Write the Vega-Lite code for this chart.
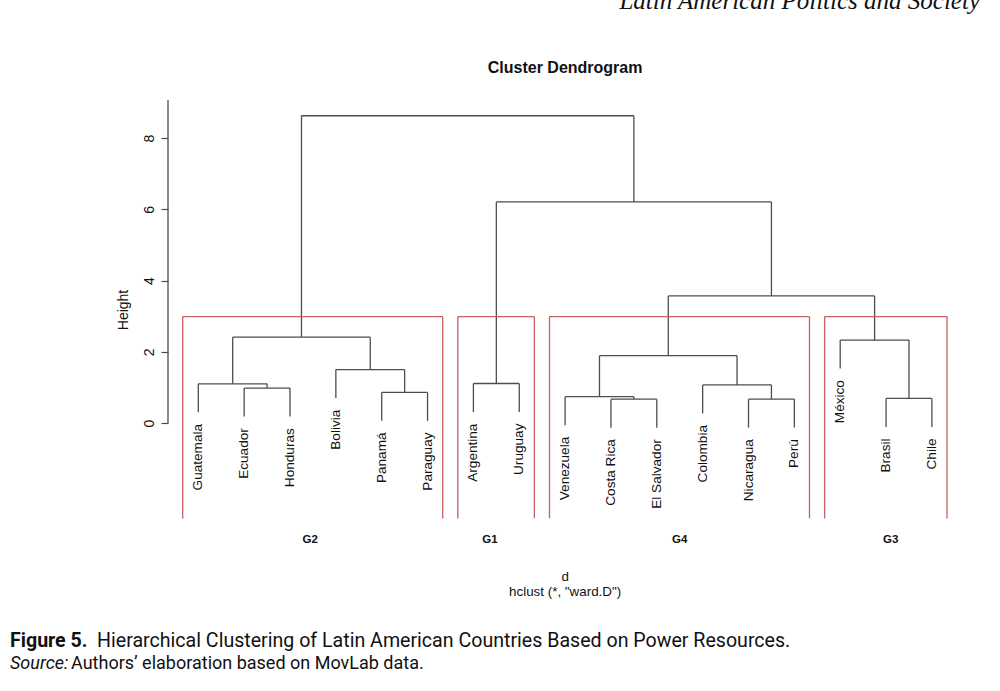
{
  "$schema": "https://vega.github.io/schema/vega-lite/v6.json",
  "width": 832,
  "height": 691,
  "padding": {"left": 168, "top": 0, "right": 0, "bottom": 0},
  "autosize": {"type": "none"},
  "background": "white",
  "config": {"view": {"stroke": null}, "axis": {"grid": false}},
  "data": {"values": [{}]},
  "datasets": {
    "segments": [
      {"x": 1, "x2": 1, "y": 0.30, "y2": 1.10},
      {"x": 2, "x2": 2, "y": 0.18, "y2": 0.98},
      {"x": 3, "x2": 3, "y": 0.18, "y2": 0.98},
      {"x": 4, "x2": 4, "y": 0.70, "y2": 1.50},
      {"x": 5, "x2": 5, "y": 0.06, "y2": 0.86},
      {"x": 6, "x2": 6, "y": 0.06, "y2": 0.86},
      {"x": 7, "x2": 7, "y": 0.31, "y2": 1.11},
      {"x": 8, "x2": 8, "y": 0.31, "y2": 1.11},
      {"x": 9, "x2": 9, "y": -0.06, "y2": 0.74},
      {"x": 10, "x2": 10, "y": -0.13, "y2": 0.67},
      {"x": 11, "x2": 11, "y": -0.13, "y2": 0.67},
      {"x": 12, "x2": 12, "y": 0.27, "y2": 1.07},
      {"x": 13, "x2": 13, "y": -0.13, "y2": 0.67},
      {"x": 14, "x2": 14, "y": -0.13, "y2": 0.67},
      {"x": 15, "x2": 15, "y": 1.53, "y2": 2.33},
      {"x": 16, "x2": 16, "y": -0.11, "y2": 0.69},
      {"x": 17, "x2": 17, "y": -0.11, "y2": 0.69},
      {"x": 2.5, "x2": 2.5, "y": 0.98, "y2": 1.10},
      {"x": 5.5, "x2": 5.5, "y": 0.86, "y2": 1.50},
      {"x": 1.75, "x2": 1.75, "y": 1.10, "y2": 2.41},
      {"x": 4.75, "x2": 4.75, "y": 1.50, "y2": 2.41},
      {"x": 3.25, "x2": 3.25, "y": 2.41, "y2": 8.63},
      {"x": 10.5, "x2": 10.5, "y": 0.67, "y2": 0.74},
      {"x": 13.5, "x2": 13.5, "y": 0.67, "y2": 1.07},
      {"x": 9.75, "x2": 9.75, "y": 0.74, "y2": 1.89},
      {"x": 12.75, "x2": 12.75, "y": 1.07, "y2": 1.89},
      {"x": 16.5, "x2": 16.5, "y": 0.69, "y2": 2.33},
      {"x": 11.25, "x2": 11.25, "y": 1.89, "y2": 3.57},
      {"x": 15.75, "x2": 15.75, "y": 2.33, "y2": 3.57},
      {"x": 7.5, "x2": 7.5, "y": 1.11, "y2": 6.21},
      {"x": 13.5, "x2": 13.5, "y": 3.57, "y2": 6.21},
      {"x": 10.5, "x2": 10.5, "y": 6.21, "y2": 8.63},
      {"x": 2, "x2": 3, "y": 0.98, "y2": 0.98},
      {"x": 1, "x2": 2.5, "y": 1.10, "y2": 1.10},
      {"x": 5, "x2": 6, "y": 0.86, "y2": 0.86},
      {"x": 4, "x2": 5.5, "y": 1.50, "y2": 1.50},
      {"x": 1.75, "x2": 4.75, "y": 2.41, "y2": 2.41},
      {"x": 7, "x2": 8, "y": 1.11, "y2": 1.11},
      {"x": 10, "x2": 11, "y": 0.67, "y2": 0.67},
      {"x": 9, "x2": 10.5, "y": 0.74, "y2": 0.74},
      {"x": 13, "x2": 14, "y": 0.67, "y2": 0.67},
      {"x": 12, "x2": 13.5, "y": 1.07, "y2": 1.07},
      {"x": 9.75, "x2": 12.75, "y": 1.89, "y2": 1.89},
      {"x": 16, "x2": 17, "y": 0.69, "y2": 0.69},
      {"x": 15, "x2": 16.5, "y": 2.33, "y2": 2.33},
      {"x": 11.25, "x2": 15.75, "y": 3.57, "y2": 3.57},
      {"x": 7.5, "x2": 13.5, "y": 6.21, "y2": 6.21},
      {"x": 3.25, "x2": 10.5, "y": 8.63, "y2": 8.63}
    ],
    "leaves": [
      {"name": "Guatemala", "idx": 1, "end": 0.30},
      {"name": "Ecuador", "idx": 2, "end": 0.18},
      {"name": "Honduras", "idx": 3, "end": 0.18},
      {"name": "Bolivia", "idx": 4, "end": 0.70},
      {"name": "Panamá", "idx": 5, "end": 0.06},
      {"name": "Paraguay", "idx": 6, "end": 0.06},
      {"name": "Argentina", "idx": 7, "end": 0.31},
      {"name": "Uruguay", "idx": 8, "end": 0.31},
      {"name": "Venezuela", "idx": 9, "end": -0.06},
      {"name": "Costa Rica", "idx": 10, "end": -0.13},
      {"name": "El Salvador", "idx": 11, "end": -0.13},
      {"name": "Colombia", "idx": 12, "end": 0.27},
      {"name": "Nicaragua", "idx": 13, "end": -0.13},
      {"name": "Perú", "idx": 14, "end": -0.13},
      {"name": "México", "idx": 15, "end": 1.53},
      {"name": "Brasil", "idx": 16, "end": -0.11},
      {"name": "Chile", "idx": 17, "end": -0.11}
    ],
    "groups": [
      {"group": "G2", "lo": 0.66, "hi": 6.33, "lx": 3.44},
      {"group": "G1", "lo": 6.66, "hi": 8.33, "lx": 7.36},
      {"group": "G4", "lo": 8.66, "hi": 14.33, "lx": 11.5},
      {"group": "G3", "lo": 14.66, "hi": 17.33, "lx": 16.1}
    ]
  },
  "layer": [
    {
      "data": {"name": "segments"},
      "mark": {"type": "rule", "color": "#4d4d4d", "strokeWidth": 1.3},
      "encoding": {
        "x": {"field": "x", "type": "quantitative", "scale": {"domain": [0.33915, 18.4852], "nice": false, "zero": false}, "axis": null},
        "x2": {"field": "x2"},
        "y": {"field": "y", "type": "quantitative", "scale": {"domain": [-7.528, 11.882], "nice": false, "zero": false},
          "axis": {"values": [0, 2, 4, 6, 8], "domain": false, "grid": false, "tickSize": 7, "tickColor": "#4d4d4d", "tickWidth": 1.2,
            "labelAngle": -90, "labelAlign": "center", "labelBaseline": "middle", "labelPadding": 12, "labelFont": "Liberation Sans", "labelFontSize": 14, "labelColor": "#111",
            "title": "Height", "titleX": -45, "titleY": 309.5, "titleAngle": -90, "titleAlign": "center", "titleBaseline": "middle", "titleFont": "Liberation Sans", "titleFontSize": 14, "titleFontWeight": "normal", "titleColor": "#111"}},
        "y2": {"field": "y2"}
      }
    },
    {
      "mark": {"type": "rule", "color": "#4d4d4d", "strokeWidth": 1.3},
      "encoding": {
        "x": {"datum": 0.33915, "type": "quantitative", "axis": null},
        "y": {"datum": 0, "type": "quantitative"},
        "y2": {"datum": 9.07}
      }
    },
    {
      "data": {"name": "groups"},
      "mark": {"type": "rule", "color": "#cc5f5f", "strokeWidth": 1.3},
      "encoding": {
        "x": {"field": "lo", "type": "quantitative", "axis": null},
        "y": {"datum": -2.68, "type": "quantitative"},
        "y2": {"datum": 2.99}
      }
    },
    {
      "data": {"name": "groups"},
      "mark": {"type": "rule", "color": "#cc5f5f", "strokeWidth": 1.3},
      "encoding": {
        "x": {"field": "hi", "type": "quantitative", "axis": null},
        "y": {"datum": -2.68, "type": "quantitative"},
        "y2": {"datum": 2.99}
      }
    },
    {
      "data": {"name": "groups"},
      "mark": {"type": "rule", "color": "#cc5f5f", "strokeWidth": 1.3},
      "encoding": {
        "x": {"field": "lo", "type": "quantitative", "axis": null},
        "x2": {"field": "hi"},
        "y": {"datum": 2.99, "type": "quantitative"}
      }
    },
    {
      "data": {"name": "leaves"},
      "mark": {"type": "text", "angle": 270, "align": "right", "baseline": "middle", "font": "Liberation Sans", "fontSize": 13.6, "color": "#111", "yOffset": 11.6},
      "encoding": {
        "x": {"field": "idx", "type": "quantitative", "axis": null},
        "y": {"field": "end", "type": "quantitative", "title": "Height"},
        "text": {"field": "name"}
      }
    },
    {
      "data": {"name": "groups"},
      "mark": {"type": "text", "align": "center", "baseline": "middle", "font": "Liberation Sans", "fontSize": 11.5, "fontWeight": "bold", "color": "#111"},
      "encoding": {
        "x": {"field": "lx", "type": "quantitative", "axis": null},
        "y": {"datum": -3.29, "type": "quantitative"},
        "text": {"field": "group"}
      }
    },
    {
      "mark": {"type": "text", "text": "Cluster Dendrogram", "align": "center", "baseline": "alphabetic", "font": "Liberation Sans", "fontSize": 16, "fontWeight": "bold", "color": "#111"},
      "encoding": {"x": {"datum": 9.0, "type": "quantitative", "axis": null}, "y": {"datum": 9.84, "type": "quantitative"}}
    },
    {
      "mark": {"type": "text", "text": "d", "align": "center", "baseline": "alphabetic", "font": "Liberation Sans", "fontSize": 13.4, "color": "#111"},
      "encoding": {"x": {"datum": 9.0, "type": "quantitative", "axis": null}, "y": {"datum": -4.43, "type": "quantitative"}}
    },
    {
      "mark": {"type": "text", "text": "hclust (*, \"ward.D\")", "align": "center", "baseline": "alphabetic", "font": "Liberation Sans", "fontSize": 13.4, "color": "#111"},
      "encoding": {"x": {"datum": 9.0, "type": "quantitative", "axis": null}, "y": {"datum": -4.87, "type": "quantitative"}}
    },
    {
      "mark": {"type": "text", "text": "Latin American Politics and Society", "align": "right", "baseline": "alphabetic", "font": "Liberation Serif", "fontStyle": "italic", "fontSize": 25, "color": "#111"},
      "encoding": {"x": {"datum": 18.049, "type": "quantitative", "axis": null}, "y": {"datum": 11.621, "type": "quantitative"}}
    },
    {
      "mark": {"type": "text", "text": "Figure 5.", "align": "left", "baseline": "alphabetic", "font": "Roboto", "fontSize": 19.6, "fontWeight": "bold", "color": "#111"},
      "encoding": {"x": {"datum": -3.107, "type": "quantitative", "axis": null}, "y": {"datum": -6.29, "type": "quantitative"}}
    },
    {
      "mark": {"type": "text", "text": "Hierarchical Clustering of Latin American Countries Based on Power Resources.", "align": "left", "baseline": "alphabetic", "font": "Roboto", "fontSize": 19.6, "color": "#111"},
      "encoding": {"x": {"datum": -1.209, "type": "quantitative", "axis": null}, "y": {"datum": -6.29, "type": "quantitative"}}
    },
    {
      "mark": {"type": "text", "text": "Source:", "align": "left", "baseline": "alphabetic", "font": "Roboto", "fontSize": 18, "fontStyle": "italic", "color": "#111"},
      "encoding": {"x": {"datum": -3.107, "type": "quantitative", "axis": null}, "y": {"datum": -6.91, "type": "quantitative"}}
    },
    {
      "mark": {"type": "text", "text": "Authors’ elaboration based on MovLab data.", "align": "left", "baseline": "alphabetic", "font": "Roboto", "fontSize": 18, "color": "#111"},
      "encoding": {"x": {"datum": -1.776, "type": "quantitative", "axis": null}, "y": {"datum": -6.91, "type": "quantitative"}}
    }
  ]
}
